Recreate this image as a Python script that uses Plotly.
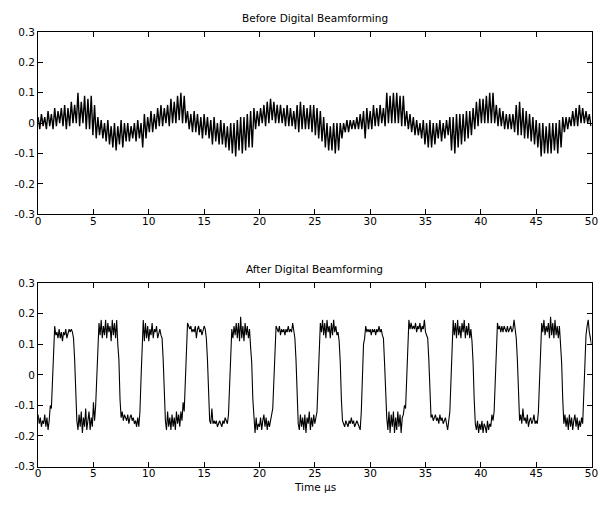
import numpy as np
import plotly.graph_objects as go

# ---------------- data ----------------
titles = ["Before Digital Beamforming", "After Digital Beamforming"]
x_label = "Time μs"
x_ticks = [0, 5, 10, 15, 20, 25, 30, 35, 40, 45, 50]
y_ticks = [-0.3, -0.2, -0.1, 0, 0.1, 0.2, 0.3]
y_tick_text = ["-0.3", "-0.2", "-0.1", "0", "0.1", "0.2", "0.3"]

# Before beamforming: local maxima at t = 0.0, 0.3, ... 49.8
# and local minima at t = 0.15, 0.45, ... 49.95
before_step = 0.15
before_peaks = [
    0.02, 0.03, 0.02, 0.04, 0.03, 0.05, 0.04, 0.05, 0.06, 0.05,
    0.07, 0.06, 0.10, 0.07, 0.09, 0.08, 0.09, 0.06, 0.02, 0.01,
    0.00, 0.01, -0.01, 0.00, -0.01, 0.01, 0.00, 0.00, -0.01, 0.00,
    0.01, 0.00, 0.03, 0.02, 0.04, 0.03, 0.05, 0.06, 0.05, 0.06,
    0.08, 0.07, 0.09, 0.10, 0.09, 0.04, 0.03, 0.04, 0.03, 0.02,
    0.03, 0.02, 0.01, 0.02, 0.00, 0.01, 0.00, -0.01, 0.00, 0.00,
    0.01, 0.02, 0.02, 0.03, 0.04, 0.05, 0.04, 0.05, 0.06, 0.07,
    0.08, 0.07, 0.06, 0.06, 0.05, 0.06, 0.05, 0.04, 0.06, 0.07,
    0.06, 0.05, 0.06, 0.06, 0.05, 0.04, 0.02, 0.00, -0.01, 0.00,
    0.00, 0.00, 0.00, 0.01, 0.01, 0.01, 0.02, 0.03, 0.04, 0.05,
    0.04, 0.06, 0.05, 0.06, 0.05, 0.10, 0.09, 0.10, 0.10, 0.09,
    0.09, 0.04, 0.03, 0.02, 0.01, 0.00, 0.01, 0.00, 0.01, 0.00,
    0.00, 0.01, 0.00, 0.01, 0.02, 0.02, 0.03, 0.03, 0.03, 0.04,
    0.04, 0.05, 0.07, 0.08, 0.08, 0.09, 0.10, 0.10, 0.06, 0.05,
    0.04, 0.03, 0.03, 0.03, 0.06, 0.07, 0.05, 0.04, 0.03, 0.02,
    0.01, 0.00, 0.00, -0.01, 0.00, 0.00, 0.00, 0.01, 0.02, 0.02,
    0.02, 0.04, 0.05, 0.06, 0.05, 0.04, 0.03,
]
before_troughs = [
    -0.02, -0.01, -0.02, -0.01, -0.02, -0.01, 0.00, -0.01, -0.02, -0.01,
    0.00, 0.00, -0.01, 0.00, -0.02, -0.02, -0.04, -0.05, -0.04, -0.05,
    -0.06, -0.07, -0.08, -0.09, -0.07, -0.08, -0.06, -0.06, -0.05, -0.06,
    -0.05, -0.08, -0.05, -0.03, -0.03, -0.02, -0.01, -0.01, 0.00, -0.01,
    0.00, 0.00, 0.01, 0.00, 0.00, -0.02, -0.03, -0.03, -0.04, -0.05,
    -0.04, -0.05, -0.07, -0.06, -0.07, -0.07, -0.08, -0.09, -0.10, -0.11,
    -0.09, -0.10, -0.09, -0.08, -0.08, -0.02, -0.01, 0.00, -0.01, 0.00,
    0.01, 0.00, 0.00, 0.00, -0.01, -0.01, -0.01, -0.02, -0.03, -0.02,
    -0.02, -0.02, -0.03, -0.04, -0.05, -0.06, -0.08, -0.09, -0.09, -0.10,
    -0.09, -0.05, -0.03, -0.03, -0.02, -0.02, -0.02, -0.02, -0.05, -0.02,
    -0.02, -0.01, -0.01, 0.00, -0.01, 0.00, 0.00, 0.00, 0.00, -0.01,
    -0.01, -0.02, -0.03, -0.04, -0.04, -0.05, -0.07, -0.08, -0.08, -0.07,
    -0.05, -0.06, -0.05, -0.04, -0.09, -0.10, -0.08, -0.07, -0.06, -0.05,
    -0.04, -0.02, -0.01, 0.00, 0.00, 0.00, 0.00, 0.00, -0.01, -0.01,
    -0.02, -0.02, -0.02, -0.03, -0.04, -0.04, -0.05, -0.05, -0.06, -0.07,
    -0.08, -0.11, -0.10, -0.10, -0.10, -0.09, -0.10, -0.08, -0.03, -0.02,
    -0.01, -0.01, -0.01, 0.00, 0.00, 0.00, -0.01,
]

# After beamforming: samples every 0.1 us from t = 0 to 50
after_step = 0.1
after_values = [
    -0.13, -0.16, -0.14, -0.17, -0.15, -0.16, -0.13, -0.17, -0.14, -0.18,
    -0.15, -0.10, -0.11, -0.02, 0.10, 0.16, 0.13, 0.14, 0.12, 0.15,
    0.12, 0.14, 0.11, 0.14, 0.13, 0.15, 0.12, 0.14, 0.15, 0.14,
    0.15, 0.14, 0.12, 0.05, -0.08, -0.15, -0.18, -0.13, -0.17, -0.12,
    -0.19, -0.14, -0.17, -0.11, -0.18, -0.15, -0.12, -0.18, -0.14, -0.17,
    -0.09, -0.15, -0.10, -0.01, 0.11, 0.17, 0.13, 0.18, 0.12, 0.16,
    0.13, 0.18, 0.12, 0.17, 0.14, 0.16, 0.11, 0.18, 0.13, 0.17,
    0.12, 0.18, 0.10, 0.05, -0.08, -0.14, -0.12, -0.15, -0.13, -0.14,
    -0.15, -0.13, -0.16, -0.14, -0.13, -0.15, -0.14, -0.16, -0.15, -0.17,
    -0.14, -0.17, -0.12, -0.01, 0.11, 0.18, 0.11, 0.17, 0.12, 0.16,
    0.11, 0.15, 0.13, 0.17, 0.12, 0.15, 0.14, 0.16, 0.12, 0.14,
    0.15, 0.13, 0.12, 0.05, -0.08, -0.15, -0.18, -0.12, -0.17, -0.14,
    -0.18, -0.13, -0.17, -0.14, -0.18, -0.12, -0.16, -0.13, -0.17, -0.12,
    -0.15, -0.09, -0.12, -0.02, 0.10, 0.17, 0.16, 0.15, 0.16, 0.14,
    0.15, 0.14, 0.16, 0.12, 0.15, 0.16, 0.14, 0.15, 0.13, 0.15,
    0.16, 0.15, 0.12, 0.05, -0.08, -0.15, -0.16, -0.11, -0.16, -0.15,
    -0.16, -0.15, -0.17, -0.16, -0.15, -0.16, -0.17, -0.15, -0.16, -0.14,
    -0.15, -0.16, -0.13, -0.02, 0.11, 0.15, 0.12, 0.16, 0.13, 0.17,
    0.12, 0.17, 0.11, 0.19, 0.12, 0.16, 0.11, 0.17, 0.13, 0.16,
    0.12, 0.15, 0.09, 0.04, -0.08, -0.15, -0.19, -0.14, -0.18, -0.16,
    -0.17, -0.14, -0.18, -0.15, -0.13, -0.17, -0.14, -0.18, -0.15, -0.17,
    -0.14, -0.13, -0.11, -0.01, 0.11, 0.16, 0.15, 0.14, 0.16, 0.13,
    0.15, 0.14, 0.15, 0.13, 0.15, 0.14, 0.16, 0.14, 0.15, 0.14,
    0.17, 0.14, 0.12, 0.05, -0.08, -0.16, -0.18, -0.13, -0.17, -0.14,
    -0.18, -0.13, -0.19, -0.14, -0.16, -0.12, -0.18, -0.14, -0.17, -0.13,
    -0.16, -0.14, -0.12, -0.02, 0.10, 0.17, 0.14, 0.18, 0.13, 0.17,
    0.12, 0.18, 0.14, 0.16, 0.12, 0.17, 0.13, 0.18, 0.14, 0.16,
    0.13, 0.14, 0.11, 0.04, -0.08, -0.15, -0.16, -0.17, -0.15, -0.16,
    -0.17, -0.15, -0.16, -0.14, -0.16, -0.15, -0.17, -0.16, -0.15, -0.16,
    -0.17, -0.18, -0.12, -0.02, 0.10, 0.12, 0.16, 0.14, 0.15, 0.14,
    0.15, 0.13, 0.15, 0.14, 0.15, 0.13, 0.15, 0.14, 0.16, 0.14,
    0.15, 0.13, 0.12, 0.04, -0.08, -0.14, -0.18, -0.12, -0.19, -0.13,
    -0.17, -0.12, -0.19, -0.14, -0.18, -0.12, -0.17, -0.13, -0.19, -0.14,
    -0.13, -0.10, -0.11, -0.01, 0.11, 0.18, 0.15, 0.17, 0.15, 0.16,
    0.15, 0.17, 0.14, 0.16, 0.15, 0.17, 0.14, 0.16, 0.15, 0.18,
    0.14, 0.13, 0.12, 0.05, -0.08, -0.14, -0.13, -0.15, -0.14, -0.13,
    -0.15, -0.14, -0.16, -0.13, -0.15, -0.14, -0.16, -0.15, -0.14, -0.16,
    -0.18, -0.15, -0.12, -0.02, 0.10, 0.18, 0.13, 0.17, 0.12, 0.18,
    0.13, 0.16, 0.12, 0.17, 0.14, 0.18, 0.12, 0.16, 0.13, 0.17,
    0.12, 0.15, 0.11, 0.04, -0.08, -0.16, -0.18, -0.15, -0.19, -0.16,
    -0.18, -0.15, -0.19, -0.16, -0.17, -0.19, -0.15, -0.18, -0.16, -0.17,
    -0.13, -0.15, -0.12, -0.02, 0.10, 0.17, 0.15, 0.16, 0.14, 0.16,
    0.14, 0.16, 0.15, 0.14, 0.16, 0.14, 0.15, 0.16, 0.14, 0.15,
    0.18, 0.15, 0.12, 0.05, -0.08, -0.15, -0.13, -0.16, -0.11, -0.15,
    -0.14, -0.16, -0.13, -0.17, -0.15, -0.14, -0.16, -0.15, -0.13, -0.16,
    -0.15, -0.16, -0.12, -0.02, 0.10, 0.17, 0.14, 0.18, 0.13, 0.16,
    0.14, 0.17, 0.12, 0.19, 0.13, 0.17, 0.12, 0.18, 0.13, 0.16,
    0.12, 0.16, 0.10, 0.04, -0.08, -0.16, -0.13, -0.17, -0.14, -0.18,
    -0.13, -0.17, -0.14, -0.18, -0.15, -0.13, -0.17, -0.14, -0.18, -0.15,
    -0.17, -0.14, -0.16, -0.05, 0.06, 0.13, 0.16, 0.18, 0.14, 0.12,
    0.10,
]

# ---------------- build series ----------------
before_t, before_v = [], []
for k, p in enumerate(before_peaks):
    before_t.append(round(2 * k * before_step, 3))
    before_v.append(p)
    if k < len(before_troughs):
        before_t.append(round((2 * k + 1) * before_step, 3))
        before_v.append(before_troughs[k])

after_t = [round(i * after_step, 3) for i in range(len(after_values))]

FONT = "DejaVu Sans"
FS = 10.5
W, H = 600, 506

fig = go.Figure()
fig.add_trace(go.Scatter(x=before_t, y=before_v, mode="lines",
                         line=dict(color="black", width=1.4),
                         xaxis="x", yaxis="y", showlegend=False, hoverinfo="skip"))
fig.add_trace(go.Scatter(x=after_t, y=after_values, mode="lines",
                         line=dict(color="black", width=1.1),
                         xaxis="x2", yaxis="y2", showlegend=False, hoverinfo="skip"))

x0, x1 = 35.7 / W, 598.5 / W
top_dom = [1 - 213.3 / H, 1 - 26.7 / H]
bot_dom = [1 - 471.7 / H, 1 - 284.0 / H]

common_x = dict(range=[0, 50], tickmode="array", tickvals=x_ticks,
                ticktext=[str(v) for v in x_ticks],
                ticks="inside", ticklen=5, tickwidth=1, tickcolor="black",
                showline=True, linecolor="black", linewidth=1, mirror="ticks",
                showgrid=False, zeroline=False, domain=[x0, x1],
                ticklabeloverflow="allow", ticklabelstandoff=-3,
                tickfont=dict(family=FONT, size=FS, color="black"))
common_y = dict(range=[-0.3, 0.3], tickmode="array", tickvals=y_ticks,
                ticktext=y_tick_text,
                ticks="inside", ticklen=5, tickwidth=1, tickcolor="black",
                showline=True, linecolor="black", linewidth=1, mirror="ticks",
                showgrid=False, zeroline=False,
                tickfont=dict(family=FONT, size=FS, color="black"))

fig.update_layout(
    width=W, height=H,
    margin=dict(l=0, r=0, t=0, b=0),
    paper_bgcolor="white", plot_bgcolor="white",
    xaxis=dict(**common_x, anchor="y"),
    yaxis=dict(**common_y, domain=top_dom, anchor="x"),
    xaxis2=dict(**common_x, anchor="y2"),
    yaxis2=dict(**common_y, domain=bot_dom, anchor="x2"),
    annotations=[
        dict(text=titles[0], x=(x0 + x1) / 2, y=1 - 12.5 / H, xref="paper", yref="paper",
             xanchor="center", yanchor="middle", showarrow=False,
             font=dict(family=FONT, size=FS, color="black")),
        dict(text=titles[1], x=(x0 + x1) / 2, y=1 - 269.5 / H, xref="paper", yref="paper",
             xanchor="center", yanchor="middle", showarrow=False,
             font=dict(family=FONT, size=FS, color="black")),
        dict(text=x_label, x=(x0 + x1) / 2, y=1 - 493 / H, xref="paper", yref="paper",
             xanchor="center", yanchor="middle", showarrow=False,
             font=dict(family=FONT, size=FS, color="black")),
    ],
)

fig.write_html("out.html")
